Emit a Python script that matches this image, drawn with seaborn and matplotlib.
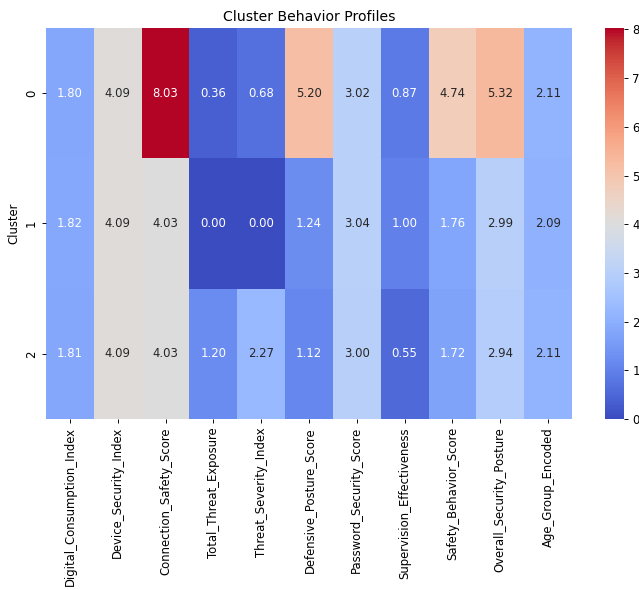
import matplotlib
matplotlib.use("Agg")
import matplotlib.pyplot as plt
import seaborn as sns
import pandas as pd

features = ["Digital_Consumption_Index", "Device_Security_Index", "Connection_Safety_Score",
            "Total_Threat_Exposure", "Threat_Severity_Index", "Defensive_Posture_Score",
            "Password_Security_Score", "Supervision_Effectiveness", "Safety_Behavior_Score",
            "Overall_Security_Posture", "Age_Group_Encoded"]
clusters = [0, 1, 2]
cluster0 = [1.80, 4.09, 8.03, 0.36, 0.68, 5.20, 3.02, 0.87, 4.74, 5.32, 2.11]
cluster1 = [1.82, 4.09, 4.03, 0.00, 0.00, 1.24, 3.04, 1.00, 1.76, 2.99, 2.09]
cluster2 = [1.81, 4.09, 4.03, 1.20, 2.27, 1.12, 3.00, 0.55, 1.72, 2.94, 2.11]

df = pd.DataFrame([cluster0, cluster1, cluster2], index=pd.Index(clusters, name="Cluster"), columns=features)

DPI = 84
fig = plt.figure(figsize=(639 / DPI, 590 / DPI), dpi=DPI)
ax = fig.add_axes([46/639, 1 - 419/590, 526/639, 391/590])
cax = fig.add_axes([605/639, 1 - 419/590, 19/639, 391/590])
sns.heatmap(df, annot=True, fmt=".2f", cmap="coolwarm", ax=ax, cbar_ax=cax)
ax.set_title("Cluster Behavior Profiles")
ax.set_xlabel("")
fig.savefig("out.png", dpi=DPI)
